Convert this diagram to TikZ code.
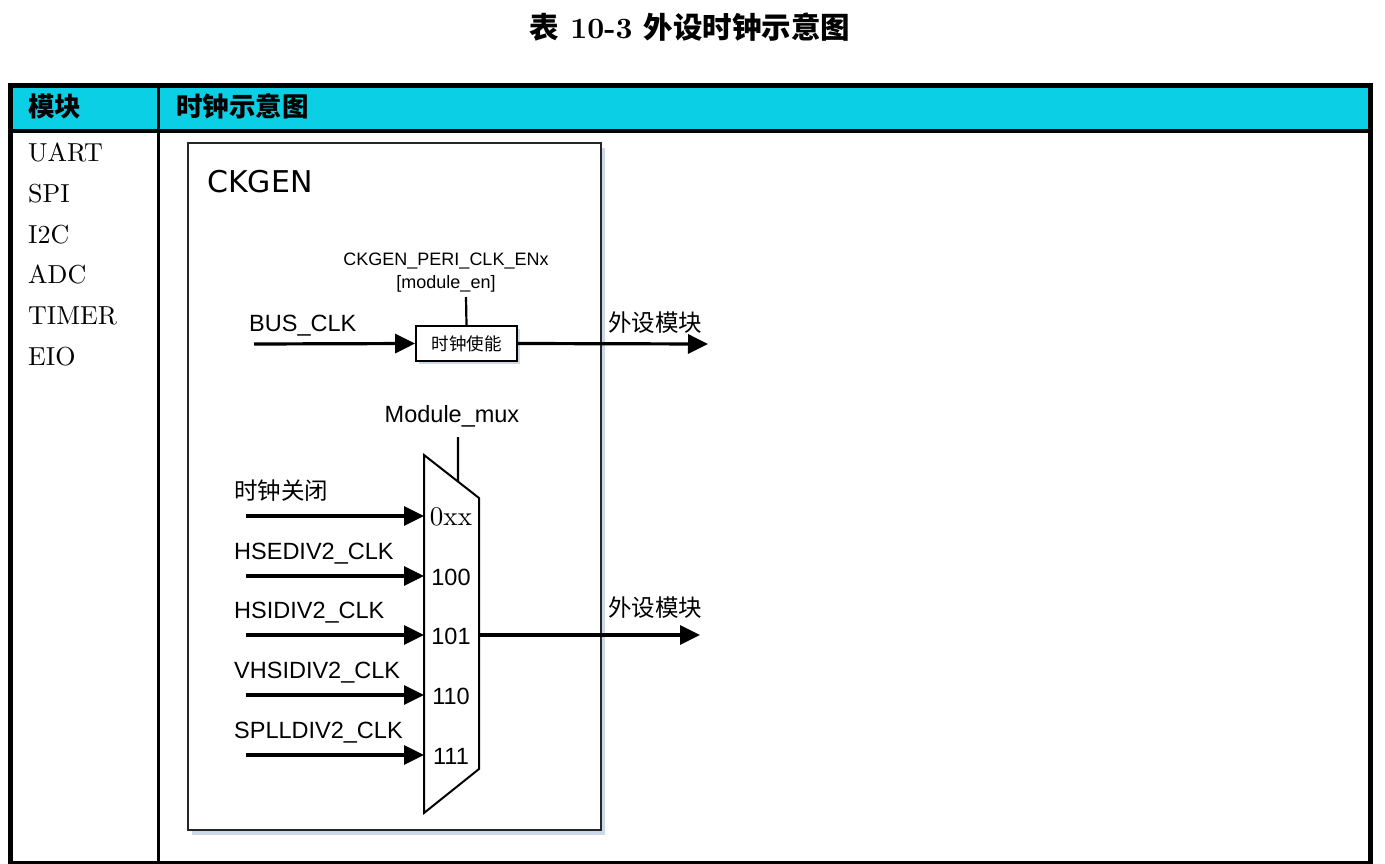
\documentclass[tikz,border=0pt]{standalone}
\usepackage{fontspec}
\newfontfamily\arial{Liberation Sans}
\newfontfamily\vera{DejaVu Sans}
\newfontfamily\cjk{Noto Sans CJK SC}
\newfontfamily\lmten[BoldFont=lmroman10-bold.otf]{lmroman10-regular.otf}
\usetikzlibrary{arrows.meta,positioning,calc,shadows}
\definecolor{hdrcyan}{RGB}{11,208,229}
\definecolor{shadowblue}{RGB}{170,190,215}

\tikzset{
  sig/.style={line width=3.2pt,-{Triangle[length=20pt,width=19pt]}},
  wire/.style={line width=2.2pt},
  signame/.style={font=\arial\fontsize{23.5}{26}\selectfont,inner sep=0pt,text height=17pt,text depth=0pt},
  cnname/.style={font=\cjk\fontsize{23.5}{26}\selectfont,inner sep=0pt,text height=17pt,text depth=0pt},
  hdr/.style={font=\cjk\bfseries\fontsize{26.5}{30}\selectfont,inner sep=0pt,anchor=west},
  modname/.style={font=\lmten\fontsize{26}{30}\selectfont,inner sep=0pt,anchor=west,text height=18pt,text depth=0pt},
  ckbox/.style={draw=black!85,line width=2pt,fill=white,
    drop shadow={shadow xshift=4pt,shadow yshift=-5pt,fill=shadowblue,opacity=0.6}},
  enbox/.style={draw,line width=1.8pt,fill=white,minimum width=101pt,minimum height=35pt,
    font=\cjk\fontsize{17.5}{20}\selectfont,inner sep=0pt,
    drop shadow={shadow xshift=3pt,shadow yshift=-3pt,fill=shadowblue,opacity=0.6}}
}

\begin{document}
\begin{tikzpicture}[x=1pt,y=-1pt]
\useasboundingbox (0,0) rectangle (1385,864);

\node[font=\lmten\fontsize{29.5}{32}\selectfont\bfseries] (title) at (690,27) {{\cjk 表} 10-3 {\cjk 外设时钟示意图}};

% table frame
\coordinate (tbl-nw) at (10.5,86);
\coordinate (tbl-se) at (1370.5,863);
\fill[hdrcyan] (tbl-nw) rectangle (1370.5,131);
\draw[line width=5pt] (tbl-nw) rectangle (tbl-se);
\draw[line width=4pt] (10.5,131) -- (1370.5,131);
\draw[line width=3pt] (158.5,86) -- (158.5,863);

\node[hdr] (hmod) at (28,106) {模块};
\node[hdr] (hclk) at (176,106) {时钟示意图};

\foreach \m [count=\i from 0] in {UART,SPI,I2C,ADC,TIMER,EIO}
  \node[modname] (mod\i) at (28,{153+40.6*\i}) {\m};

% CKGEN block
\node[ckbox,minimum width=413pt,minimum height=687pt] (ckgen) at (394.5,486.5) {};
\node[anchor=west,font=\vera\fontsize{30}{34}\selectfont,inner sep=0pt] (cktitle) at (207,182) {CKGEN};

\node[enbox] (en) at (466.5,343.5) {时钟使能};
\node[font=\arial\fontsize{18}{23}\selectfont,align=center,inner sep=0pt] (enreg) at (446,273)
  {CKGEN\_PERI\_CLK\_ENx\\ {[module\_en]}};
\coordinate (enreg-pin) at (466,297);
\draw[wire] (enreg-pin) -- (en.north);

\node[signame,anchor=west] (busclk) at (249,323) {BUS\_CLK};
\coordinate (bus-in) at (254,344);
\draw[sig] (bus-in) -- (en.west);
\coordinate (per-out1) at (708,344);
\draw[sig] (en.east) -- (per-out1);
\node[cnname,anchor=west] (per1) at (608,323) {外设模块};

% mux
\coordinate (mux-tl) at (424,455);
\coordinate (mux-tr) at (479,498);
\coordinate (mux-br) at (479,769);
\coordinate (mux-bl) at (424,813);
\draw[line width=2pt,fill=white,line join=miter] (mux-tl) -- (mux-tr) -- (mux-br) -- (mux-bl) -- cycle;

\node[signame] (muxsel) at (452,414) {Module\_mux};
\coordinate (sel-top) at (458,437);
\draw[wire] (sel-top) -- ($(mux-tl)!0.618!(mux-tr)$);

\foreach \y/\src/\sel [count=\i] in {516/{\cjk 时钟关闭}/{\lmten\fontsize{27}{29}\selectfont 0xx},
    576/HSEDIV2\_CLK/100, 635/HSIDIV2\_CLK/101, 695/VHSIDIV2\_CLK/110, 755/SPLLDIV2\_CLK/111} {
  \coordinate (src\i) at (246,\y);
  \coordinate (mux-in\i) at (424,\y);
  \draw[sig] (src\i) -- (mux-in\i);
  \node[signame,anchor=west] (srcname\i) at (234,\y-25) {\src};
  \node[signame] (port\i) at (451,\y+1) {\sel};
}

\coordinate (mux-out) at (479,635);
\coordinate (per-out2) at (700,635);
\draw[sig] (mux-out) -- (per-out2);
\node[cnname,anchor=west] (per2) at (608,608) {外设模块};
\end{tikzpicture}
\end{document}
